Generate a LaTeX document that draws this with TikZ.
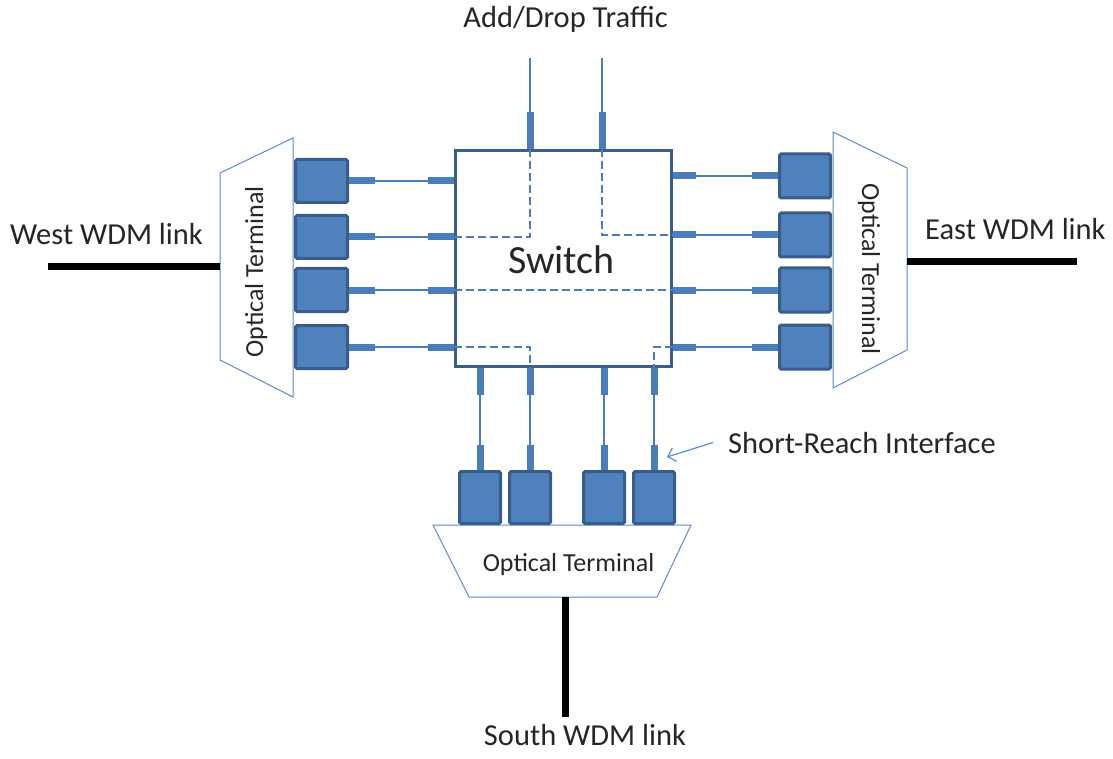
\documentclass[tikz,border=0pt]{standalone}
\usepackage{fontspec}
\setmainfont{Carlito}
\usetikzlibrary{arrows.meta}
\definecolor{trxblue}{RGB}{79,129,189}
\definecolor{trxedge}{RGB}{56,93,138}
\definecolor{swedge}{RGB}{59,94,143}
\definecolor{portblue}{RGB}{74,126,187}
\definecolor{termline}{RGB}{91,140,200}
\tikzset{
  trx/.style={draw=trxedge, fill=trxblue, line width=3pt, rounded corners=1.5pt, inner sep=0pt},
  stub/.style={portblue, line width=7pt},
  fibre/.style={portblue, line width=1.2pt},
  xconn/.style={portblue, line width=2.6pt, dash pattern=on 8pt off 4pt},
  wdm/.style={black, line width=7pt},
  term/.style={termline, line width=1pt, fill=white},
  lbl/.style={font=\fontsize{30.5}{36}\selectfont, text=black!85, inner sep=0pt},
  tlbl/.style={font=\fontsize{26}{31}\selectfont, text=black!85, inner sep=0pt}
}

\begin{document}
\begin{tikzpicture}[x=1pt,y=-1pt]
  \useasboundingbox (0,0) rectangle (1113,759);

  \draw[term] (220,173) -- (293,138) -- (293,397) -- (220,360) -- cycle;
  \draw[term] (833,132) -- (907,168) -- (907,350) -- (833,388) -- cycle;
  \draw[term] (433,525) -- (691,525) -- (657,597) -- (469,597) -- cycle;

  \node[draw=swedge, line width=3.5pt, minimum size=216pt, inner sep=0pt] (sw) at (563.5,258.5) {};
  \node[font=\fontsize{40}{48}\selectfont, text=black!85, inner sep=0pt, anchor=base] (swl) at (561.5,273) {Switch};

  \foreach \y [count=\i] in {181,237,290,347} {
    \node[trx, minimum width=52pt, minimum height=43pt] (w\i) at (321.5,\y) {};
    \draw[fibre] (w\i.east) -- (w\i.east -| sw.west);
    \draw[stub] (w\i.east) -- ++(26,0);
    \draw[stub] (w\i.east -| sw.west) -- ++(-26,0);
  }
  \foreach \y [count=\i] in {176,235,290,347} {
    \node[trx, minimum width=51pt, minimum height=44pt] (e\i) at (805,\y) {};
    \draw[fibre] (e\i.west) -- (e\i.west -| sw.east);
    \draw[stub] (e\i.west) -- ++(-26,0);
    \draw[stub] (e\i.west -| sw.east) -- ++(23,0);
  }
  \foreach \x [count=\i] in {480,530,604,654} {
    \node[trx, minimum width=41pt, minimum height=52pt] (s\i) at (\x,497.5) {};
    \draw[fibre] (s\i.north) -- (s\i.north |- sw.south);
    \draw[stub] (s\i.north) -- ++(0,-25);
    \draw[stub] (s\i.north |- sw.south) -- ++(0,27);
  }
  \foreach \x [count=\i] in {530,602} {
    \coordinate (a\i) at (\x,58);
    \draw[fibre] (a\i) -- (a\i |- sw.north);
    \draw[stub] (a\i |- sw.north) -- ++(0,-37);
  }

  \draw[xconn] (a1 |- sw.north) -- (a1 |- w2) -- (sw.west |- w2);
  \draw[xconn] (a2 |- sw.north) -- (a2 |- e2) -- (sw.east |- e2);
  \draw[xconn] (sw.west |- w3) -- (sw.east |- e3);
  \draw[xconn] (sw.west |- w4) -- (s2 |- w4) -- (s2 |- sw.south);
  \draw[xconn] (sw.east |- e4) -- (s4 |- e4) -- (s4 |- sw.south);

  \coordinate (wl) at (48,267);
  \coordinate (wt) at (220,267);
  \coordinate (et) at (907,262);
  \coordinate (el) at (1077,262);
  \coordinate (st) at (565,597);
  \coordinate (sl) at (565,717);
  \draw[wdm] (wl) -- (wt);
  \draw[wdm] (et) -- (el);
  \draw[wdm] (st) -- (sl);

  \node[lbl, anchor=base west] (west) at (10,245) {West WDM link};
  \node[lbl, anchor=base west] (east) at (925,240) {East WDM link};
  \node[lbl, anchor=base] (south) at (585,745) {South WDM link};
  \node[lbl, anchor=base] (adddrop) at (565.5,28) {Add/Drop Traffic};
  \node[lbl, anchor=base west] (sri) at (728,453) {Short-Reach Interface};
  \node[tlbl, rotate=90, anchor=base] (wterm) at (263,272) {Optical Terminal};
  \node[tlbl, rotate=-90, anchor=base] (eterm) at (862,269) {Optical Terminal};
  \node[tlbl, anchor=base] (sterm) at (568.5,571) {Optical Terminal};

  \draw[termline, line width=1.2pt, -{Straight Barb[length=7pt,width=14pt]}]
    ([xshift=-15pt]sri.west) -- ([xshift=13pt,yshift=13pt]s4.north);
\end{tikzpicture}
\end{document}
